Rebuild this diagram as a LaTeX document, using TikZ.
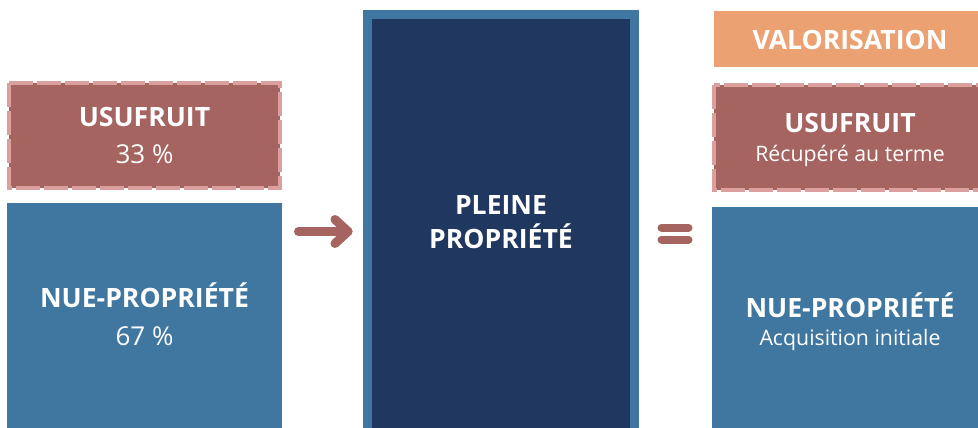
\documentclass[tikz,border=0pt]{standalone}
\usepackage{fontspec}
\setmainfont{Open Sans}
\usetikzlibrary{calc}

\definecolor{rose}{HTML}{A66461}
\definecolor{rosedash}{HTML}{DBA09E}
\definecolor{steel}{HTML}{3F77A0}
\definecolor{navy}{HTML}{20375F}
\definecolor{apricot}{HTML}{EBA172}

\tikzset{
  usubox/.style={fill=rose, draw=rosedash, line width=4pt, dash pattern=on 24pt off 4pt},
  bigtitle/.style={text=white, font=\bfseries\fontsize{26.6}{32}\selectfont, anchor=base, inner sep=0pt},
  subtitle/.style={text=white, font=\fontsize{26}{31}\selectfont, anchor=base, inner sep=0pt},
  smalltitle/.style={text=white, font=\fontsize{21.3}{26}\selectfont, anchor=base, inner sep=0pt},
  symline/.style={draw=rose, line width=9pt, line cap=round, line join=round},
}

\begin{document}
\begin{tikzpicture}[x=1pt, y=-1pt]
  \useasboundingbox (0,0) rectangle (978,428);

  % left column: usufruct over bare ownership
  \path[usubox] (9,83) rectangle (280,188);
  \node[bigtitle] (lusu) at (144.5,126.5) {USUFRUIT};
  \node[subtitle] (lusupct) at (144.5,163.3) {33 \%};

  \fill[steel] (7,203) rectangle (282,430);
  \node[bigtitle] (lnue) at (144.5,307.3) {NUE-PROPRIÉTÉ};
  \node[subtitle] (lnuepct) at (144.5,345) {67 \%};

  % arrow to full ownership
  \coordinate (arrS) at (298.5,231.5);
  \coordinate (arrE) at (348,231.5);
  \draw[symline] (arrS) -- (arrE);
  \draw[symline] ($(arrE)+(-13,-12)$) -- (arrE) -- ($(arrE)+(-13,12)$);

  % centre column: full ownership
  \fill[steel] (363,10) rectangle (639,430);
  \fill[navy] (372,19) rectangle (630,430);
  \node[bigtitle] (pp1) at (501,214) {PLEINE};
  \node[bigtitle] (pp2) at (501,248) {PROPRIÉTÉ};

  % equals sign
  \coordinate (eqL) at (661.5,227.5);
  \coordinate (eqR) at (688.5,227.5);
  \draw[symline, line width=8pt] (eqL) -- (eqR);
  \draw[symline, line width=8pt] ($(eqL)+(0,12)$) -- ($(eqR)+(0,12)$);

  % right column: valuation
  \fill[apricot] (714,11) rectangle (990,67);
  \node[bigtitle] (valo) at (850,49.3) {VALORISATION};

  \path[usubox] (714,85) rectangle (990,190);
  \node[bigtitle] (rusu) at (850,132.7) {USUFRUIT};
  \node[smalltitle] (rusutxt) at (850,161.7) {Récupéré au terme};

  \fill[steel] (712,207) rectangle (990,430);
  \node[bigtitle] (rnue) at (850,317.3) {NUE-PROPRIÉTÉ};
  \node[smalltitle] (rnuetxt) at (850,345) {Acquisition initiale};
\end{tikzpicture}
\end{document}
